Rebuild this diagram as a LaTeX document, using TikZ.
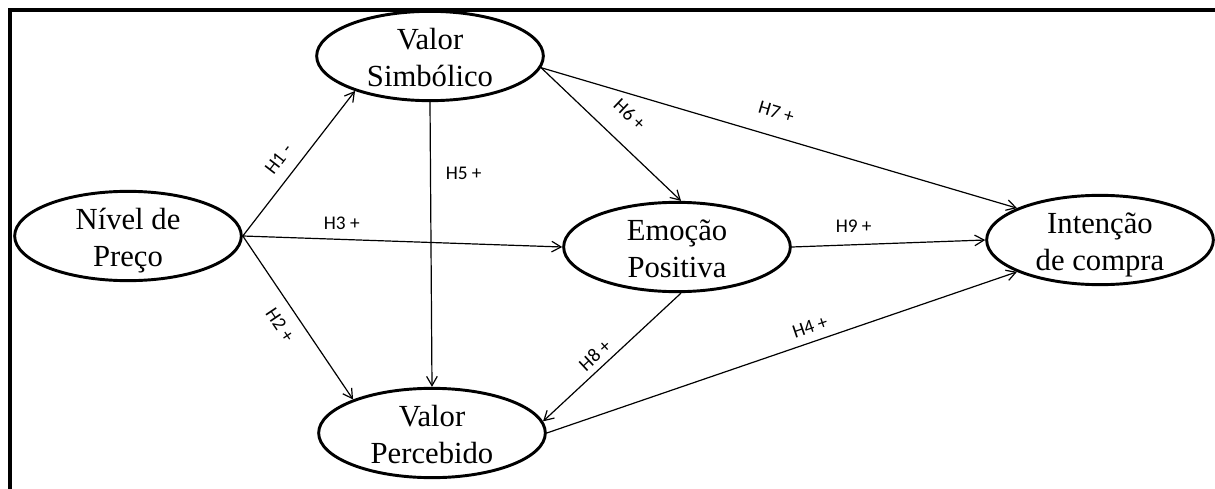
\documentclass[tikz,border=0pt]{standalone}
\usepackage{fontspec}
\setmainfont{Liberation Serif}
\newfontfamily\hypfont{Carlito}
\usetikzlibrary{shapes.geometric,arrows.meta}

% two centred lines, box height fixed so both baselines sit low in the ellipse
\newcommand\twoline[2]{\raisebox{0pt}[45pt][0pt]{\begin{tabular}[b]{@{}c@{}}#1\\#2\end{tabular}}}

\begin{document}
\begin{tikzpicture}[
        x={(0.75pt,0pt)},
        y={(0pt,-0.75pt)},
        construct/.style={ellipse, draw, line width=2.2pt, minimum width=170pt, minimum height=67pt, inner sep=0pt, font=\fontsize{23}{27.75}\selectfont},
        link/.style={-{Straight Barb[length=7pt,width=8pt]}, line width=0.9pt},
        hyp/.style={font=\hypfont\fontsize{14.5}{16}\selectfont, inner sep=1pt}
    ]
    \useasboundingbox (0,0) rectangle (1215,489);

    % frame
    \draw[line width=2.4pt] (1215,10) -- (10,10) -- (10,489);

    \node[construct] (niv) at (128,236) {\twoline{Nível de}{Preço}};
    \node[construct] (vs) at (430,56) {\twoline{Valor}{Simbólico}};
    \node[construct] (emo) at (677,247) {\twoline{Emoção}{Positiva}};
    \node[construct] (int) at (1100,240) {\twoline{Intenção}{de compra}};
    \node[construct] (vp) at (432,433) {\twoline{Valor}{Percebido}};

    \draw[link] (niv.east) -- (vs.205) node[hyp, sloped, pos=0.45, above=8pt] {H1 -};
    \draw[link] (niv.east) -- (emo.west) node[hyp, pos=0.31, above=6pt] {H3 +};
    \draw[link] (niv.east) -- (vp.157) node[hyp, sloped, pos=0.48, below=8pt] {H2 +};
    \draw[link] (vs.south) -- (vp.north) node[hyp, pos=0.25, right=10pt] {H5 +};
    \draw[link] (vs.-6) -- (emo.85) node[hyp, sloped, pos=0.5, above=14pt] {H6 +};
    \draw[link] (vs.-6) -- (int.159) node[hyp, sloped, pos=0.48, above=12pt] {H7 +};
    \draw[link] (emo.east) -- (int.west) node[hyp, pos=0.32, above=8pt] {H9 +};
    \draw[link] (emo.-85) -- (vp.6) node[hyp, sloped, pos=0.56, above=3.5pt] {H8 +};
    \draw[link] (vp.east) -- (int.201) node[hyp, sloped, pos=0.57, above=5pt] {H4 +};
\end{tikzpicture}
\end{document}
